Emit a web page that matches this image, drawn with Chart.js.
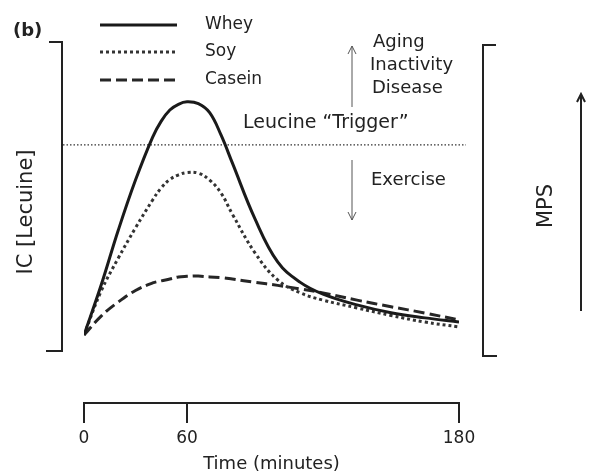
<!DOCTYPE html>
<html>
<head>
<meta charset="utf-8">
<script src="https://cdn.jsdelivr.net/npm/chart.js@4.4.1/dist/chart.umd.min.js"></script>
<style>
  html, body { margin: 0; padding: 0; background: #fff; }
  #wrap { width: 589px; height: 476px; position: relative; }
</style>
</head>
<body>
<div id="wrap"><canvas id="leuChart"></canvas></div>
<script>
// time points (minutes) and leucine curves (arbitrary units)
const timePoints = [0, 10, 20, 30, 40, 45, 50, 55, 60, 65, 70, 75, 80, 90, 100, 110, 120, 135, 150, 165, 180];
const whey   = [22.6, 39.2, 57.5, 74.1, 88.4, 93.7, 97.4, 99.3, 100.1, 99.5, 96.5, 89.1, 79.8, 61.2, 46.9, 40.1, 36.2, 32.6, 30.0, 28.3, 26.9];
const soy    = [22.6, 37.2, 48.2, 58.2, 67.5, 71.5, 74.3, 75.8, 76.6, 76.4, 74.1, 69.8, 62.8, 49.9, 40.9, 36.6, 34.2, 31.6, 29.1, 26.9, 25.3];
const casein = [22.6, 28.9, 33.6, 37.4, 39.9, 40.6, 41.2, 41.9, 42.1, 42.2, 41.9, 41.7, 41.2, 40.1, 39.1, 37.9, 36.6, 34.2, 32.0, 29.9, 27.6];
const timeTicks = [0, 60, 180];
const triggerLevel = 85.8;

const FONT = "'DejaVu Sans', sans-serif";
const INK = "#222";

// the time axis in the figure is not linear: 0-60 is squeezed against 60-180
const warpKnots = [0, 60, 180];
const warpDec = [0, 103 / 375, 1];
function warp(v) {
  for (let i = 1; i < warpKnots.length; i++) {
    if (v <= warpKnots[i] || i === warpKnots.length - 1) {
      const t = (v - warpKnots[i - 1]) / (warpKnots[i] - warpKnots[i - 1]);
      return warpDec[i - 1] + t * (warpDec[i] - warpDec[i - 1]);
    }
  }
}
function unwarp(d) {
  for (let i = 1; i < warpDec.length; i++) {
    if (d <= warpDec[i] || i === warpDec.length - 1) {
      const t = (d - warpDec[i - 1]) / (warpDec[i] - warpDec[i - 1]);
      return warpKnots[i - 1] + t * (warpKnots[i] - warpKnots[i - 1]);
    }
  }
}

class WarpScale extends Chart.LinearScale {
  getPixelForValue(value) {
    if (value === null || value === undefined) return NaN;
    return this.getPixelForDecimal(warp(value));
  }
  getValueForPixel(pixel) {
    return unwarp(this.getDecimalForPixel(pixel));
  }
}
WarpScale.id = "warp";
WarpScale.defaults = Chart.LinearScale.defaults;
Chart.register(WarpScale);

function toPoints(arr) {
  return arr.map((y, i) => ({ x: timePoints[i], y: y }));
}

function arrow(ctx, x, y1, y2) {
  const dir = y2 < y1 ? 1 : -1;
  ctx.beginPath();
  ctx.moveTo(x, y1);
  ctx.lineTo(x, y2);
  ctx.moveTo(x - 4, y2 + dir * 8);
  ctx.lineTo(x, y2);
  ctx.lineTo(x + 4, y2 + dir * 8);
  ctx.stroke();
}

const decorations = {
  id: "decorations",
  beforeDatasetsDraw(chart) {
    const ctx = chart.ctx;
    const y = chart.scales.y.getPixelForValue(triggerLevel);
    ctx.save();
    ctx.strokeStyle = "#333";
    ctx.lineWidth = 1.2;
    ctx.setLineDash([1.5, 2]);
    ctx.beginPath();
    ctx.moveTo(63, y);
    ctx.lineTo(466, y);
    ctx.stroke();
    ctx.restore();
  },
  afterDraw(chart) {
    const ctx = chart.ctx;
    ctx.save();

    // brackets
    ctx.strokeStyle = INK;
    ctx.lineWidth = 2;
    ctx.beginPath();
    ctx.moveTo(49, 42); ctx.lineTo(62, 42); ctx.lineTo(62, 351); ctx.lineTo(46, 351);
    ctx.stroke();
    ctx.beginPath();
    ctx.moveTo(496, 45); ctx.lineTo(483, 45); ctx.lineTo(483, 356); ctx.lineTo(497, 356);
    ctx.stroke();

    // MPS arrow
    ctx.lineWidth = 2;
    arrow(ctx, 581, 311, 94);

    // thin arrows around the trigger
    ctx.strokeStyle = "#555";
    ctx.lineWidth = 1;
    arrow(ctx, 352, 107, 46);
    arrow(ctx, 352, 160, 220);

    // legend
    const ys = [25, 52, 80];
    chart.data.datasets.forEach((ds, i) => {
      ctx.strokeStyle = ds.borderColor;
      ctx.lineWidth = ds.borderWidth;
      ctx.setLineDash(ds.borderDash || []);
      ctx.beginPath();
      ctx.moveTo(100, ys[i]);
      ctx.lineTo(177, ys[i]);
      ctx.stroke();
      ctx.setLineDash([]);
      ctx.fillStyle = INK;
      ctx.font = "17px " + FONT;
      ctx.textAlign = "left";
      ctx.textBaseline = "middle";
      ctx.fillText(ds.label, 205, ys[i]);
    });

    ctx.fillStyle = INK;
    ctx.textAlign = "left";
    ctx.textBaseline = "middle";
    ctx.font = "bold 18px " + FONT;
    ctx.fillText("(b)", 13, 31);

    ctx.font = "18px " + FONT;
    ctx.fillText("Aging", 373, 42);
    ctx.fillText("Inactivity", 370, 65);
    ctx.fillText("Disease", 372, 88);
    ctx.fillText("Exercise", 371, 180);
    ctx.font = "19px " + FONT;
    ctx.fillText("Leucine \u201CTrigger\u201D", 243, 123);

    // rotated labels
    ctx.textAlign = "center";
    ctx.font = "21px " + FONT;
    ctx.save();
    ctx.translate(27, 212);
    ctx.rotate(-Math.PI / 2);
    ctx.fillText("IC [Lecuine]", 0, 0);
    ctx.restore();

    ctx.save();
    ctx.translate(547, 206);
    ctx.rotate(-Math.PI / 2);
    ctx.fillText("MPS", 0, 0);
    ctx.restore();

    ctx.restore();
  }
};

const ctx = document.getElementById("leuChart");
new Chart(ctx, {
  type: "line",
  data: {
    datasets: [
      { label: "Whey", data: toPoints(whey), borderColor: "#1a1a1a", borderWidth: 3, borderDash: [] },
      { label: "Soy", data: toPoints(soy), borderColor: "#333", borderWidth: 3, borderDash: [3, 3] },
      { label: "Casein", data: toPoints(casein), borderColor: "#262626", borderWidth: 3, borderDash: [11, 5] },
    ],
  },
  options: {
    responsive: true,
    maintainAspectRatio: false,
    animation: false,
    layout: { padding: { left: 84, right: 130, top: 42, bottom: 1 } },
    elements: {
      point: { radius: 0 },
      line: { tension: 0.4, fill: false, borderCapStyle: "butt" },
    },
    plugins: {
      legend: { display: false },
      tooltip: { enabled: false },
    },
    scales: {
      x: {
        type: "warp",
        min: 0,
        max: 180,
        afterBuildTicks: (scale) => {
          scale.ticks = timeTicks.map(v => ({ value: v }));
        },
        border: { display: true, color: INK, width: 2 },
        grid: { drawOnChartArea: false, drawTicks: true, tickLength: 20, color: INK, lineWidth: 2 },
        ticks: { color: INK, font: { family: FONT, size: 17 }, padding: 5, maxRotation: 0, autoSkip: false },
        title: { display: true, text: "Time (minutes)", color: INK, font: { family: FONT, size: 18 }, padding: { top: 0, bottom: 0 } },
      },
      y: {
        display: false,
        min: 0,
        max: 120,
      },
    },
  },
  plugins: [decorations],
});
</script>
</body>
</html>
